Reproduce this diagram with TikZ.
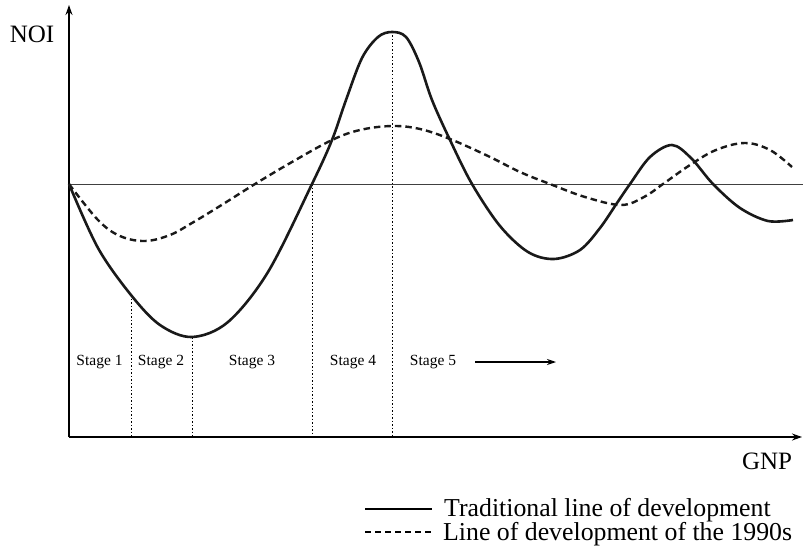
\documentclass[tikz,border=0pt]{standalone}
\usepackage{fontspec}
\setmainfont{Liberation Serif}
\usetikzlibrary{arrows.meta}
\begin{document}
\begin{tikzpicture}[x=1pt,y=-1pt,
  axis/.style={line width=1.3pt,-{Stealth[length=10pt,width=7pt]}},
  refline/.style={line width=1pt,black!75},
  divider/.style={line width=1pt,dash pattern=on 1.5pt off 2pt},
  tradcurve/.style={line width=2.6pt,black!90,line join=round},
  newcurve/.style={line width=2.4pt,black!90,dash pattern=on 6.5pt off 4pt},
  stagelbl/.style={font=\fontsize{15.5}{18}\selectfont,inner sep=0pt},
  biglbl/.style={font=\fontsize{25}{28}\selectfont,inner sep=0pt},
  keytxt/.style={font=\fontsize{25.8}{28}\selectfont,inner sep=0pt,anchor=base west}]
\useasboundingbox (0,0) rectangle (803,551);

% axes and the zero line
\coordinate (o) at (69,437);
\coordinate (ytop) at (69,5);
\coordinate (xend) at (802,437);
\coordinate (z0) at (69,184);
\coordinate (z1) at (803,184);
\draw[refline] (z0) -- (z1);
\draw[axis] (o) -- (ytop);
\draw[axis] (o) -- (xend);
\node[biglbl,anchor=base] (noi) at (32,43) {NOI};
\node[biglbl,anchor=base] (gnp) at (767,469) {GNP};

% stage boundaries
\coordinate (d1t) at (131,295); \coordinate (d1b) at (131,437);
\coordinate (d2t) at (192,337); \coordinate (d2b) at (192,437);
\coordinate (d3t) at (312,184); \coordinate (d3b) at (312,437);
\coordinate (d4t) at (392,32);  \coordinate (d4b) at (392,437);
\draw[divider] (d1t) -- (d1b);
\draw[divider] (d2t) -- (d2b);
\draw[divider] (d3t) -- (d3b);
\draw[divider] (d4t) -- (d4b);

% stage labels
\node[stagelbl] (s1) at (99.5,362) {Stage 1};
\node[stagelbl] (s2) at (161,362) {Stage 2};
\node[stagelbl] (s3) at (252,362) {Stage 3};
\node[stagelbl] (s4) at (353,362) {Stage 4};
\node[stagelbl] (s5) at (433,362) {Stage 5};
\coordinate (a0) at (475,362);
\coordinate (a1) at (556,362);
\draw[line width=1.1pt,-{Stealth[length=9pt,width=6pt]}] (a0) -- (a1);

% traditional line of development
\draw[tradcurve] plot[smooth,tension=0.55] coordinates {
  (69,184) (98,248) (131,295) (160,325) (192,337) (228,322) (268,272)
  (312,184) (332,140) (346,100) (362,58) (378,37) (392,32) (406,37)
  (419,62) (432,100) (450,140) (472,184) (500,226) (528,252) (554,259)
  (580,250) (600,228) (617,203) (630,184) (650,157) (672,145) (691,158)
  (713,184) (740,208) (768,221) (793,220)};

% line of development of the 1990s
\draw[newcurve] plot[smooth,tension=0.6] coordinates {
  (69,184) (98,220) (120,236) (145,241) (170,235) (192,223) (220,206)
  (255,184) (292,162) (332,140) (360,130) (392,126) (420,129) (450,139)
  (488,156) (520,172) (550,184) (585,197) (621,205) (644,197) (663,184)
  (690,165) (716,150) (745,143) (770,150) (792,167)};

% key
\coordinate (k1a) at (365,509); \coordinate (k1b) at (432,509);
\coordinate (k2a) at (365,532); \coordinate (k2b) at (432,532);
\draw[line width=2.6pt] (k1a) -- (k1b);
\draw[line width=2.4pt,dash pattern=on 6pt off 4pt] (k2a) -- (k2b);
\node[keytxt] (kt1) at (444,516) {Traditional line of development};
\node[keytxt] (kt2) at (443,540) {Line of development of the 1990s};
\end{tikzpicture}
\end{document}
